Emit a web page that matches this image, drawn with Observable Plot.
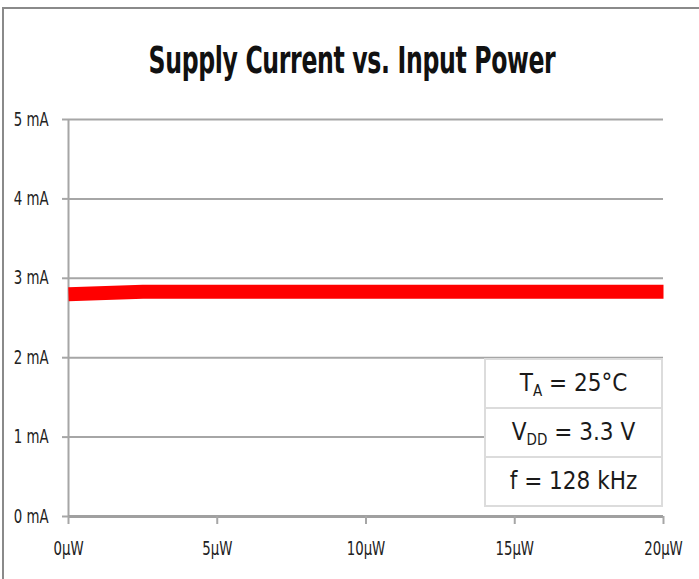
<!DOCTYPE html>
<html>
<head>
<meta charset="utf-8">
<script src="https://cdn.jsdelivr.net/npm/d3@7"></script>
<script src="https://cdn.jsdelivr.net/npm/@observablehq/plot@0.6"></script>
<style>
  html, body { margin: 0; padding: 0; background: #fff; }
  #wrap { position: relative; width: 699px; height: 579px; overflow: hidden; font-family: "Liberation Sans Narrow", "DejaVu Sans Condensed", Lato, sans-serif; }
  #frame { position: absolute; left: 2px; top: 7px; width: 720px; height: 600px; border-left: 2px solid #8a8a8a; border-top: 2px solid #8a8a8a; }
  #title { position: absolute; left: 0; width: 704px; top: 38px; text-align: center; font-size: 38px; font-weight: bold; color: #111; letter-spacing: -0.5px; transform: scaleX(0.69); transform-origin: 352px 0; }
  #chart { position: absolute; left: 0; top: 0; }
  #legend { position: absolute; left: 484px; top: 358px; width: 175px; border: 2px solid #dcdcdc; background: #fff; color: #1a1a1a; font-size: 24px; }
  #legend div { height: 47px; line-height: 47px; text-align: center; }
  #legend div + div { border-top: 2px solid #dcdcdc; }
  #legend sub { font-size: 15px; vertical-align: -5px; line-height: 0; }
</style>
</head>
<body>
<div id="wrap">
  <div id="chart"></div>
  <div id="frame"></div>
  <div id="title">Supply Current vs. Input Power</div>
  <div id="legend">
    <div>T<sub>A</sub> = 25°C</div>
    <div>V<sub>DD</sub> = 3.3 V</div>
    <div>f = 128 kHz</div>
  </div>
</div>
<script>
const powerUW = [0, 1.25, 2.5, 5, 10, 15, 20];
const currentMA = [2.80, 2.815, 2.83, 2.83, 2.83, 2.83, 2.83];
const yTicks = [0, 1, 2, 3, 4, 5];
const xTicks = [0, 5, 10, 15, 20];

const data = powerUW.map((p, i) => ({p, c: currentMA[i]}));

const chart = Plot.plot({
  width: 699,
  height: 579,
  marginLeft: 68,
  marginRight: 36,
  marginTop: 119,
  marginBottom: 63,
  style: { fontFamily: '"Liberation Sans Narrow", "DejaVu Sans Condensed", Lato, sans-serif', fontSize: "15px", color: "#222", background: "transparent" },
  x: { domain: [0, 20], label: null },
  y: { domain: [0, 5], label: null },
  marks: [
    Plot.gridY(yTicks.filter(d => d > 0), { stroke: "#a6a6a6", strokeOpacity: 1, strokeWidth: 2 }),
    Plot.ruleX([0], { stroke: "#a6a6a6", strokeWidth: 2 }),
    Plot.ruleY([0], { stroke: "#a0a0a0", strokeWidth: 3 }),
    Plot.axisY(yTicks, { tickSize: 6, tickPadding: 14, stroke: "#a6a6a6", strokeWidth: 2, tickFormat: d => d + " mA", fill: "#222", fontSize: 19, label: null }),
    Plot.axisX(xTicks, { tickSize: 8, tickPadding: 17, stroke: "#a6a6a6", strokeWidth: 2, tickFormat: d => d + "µW", fill: "#222", fontSize: 19, label: null }),
    Plot.line(data, { x: "p", y: "c", stroke: "#ff0000", strokeWidth: 14, strokeLinecap: "butt" })
  ]
});
// condense tick labels horizontally, like the narrow face of the original
d3.select(chart).selectAll("g[aria-label$='tick label'] text").each(function () {
  const t = this.getAttribute("transform") || "";
  this.setAttribute("transform", t + " scale(0.78,1)");
});
document.getElementById("chart").appendChild(chart);
</script>
</body>
</html>
